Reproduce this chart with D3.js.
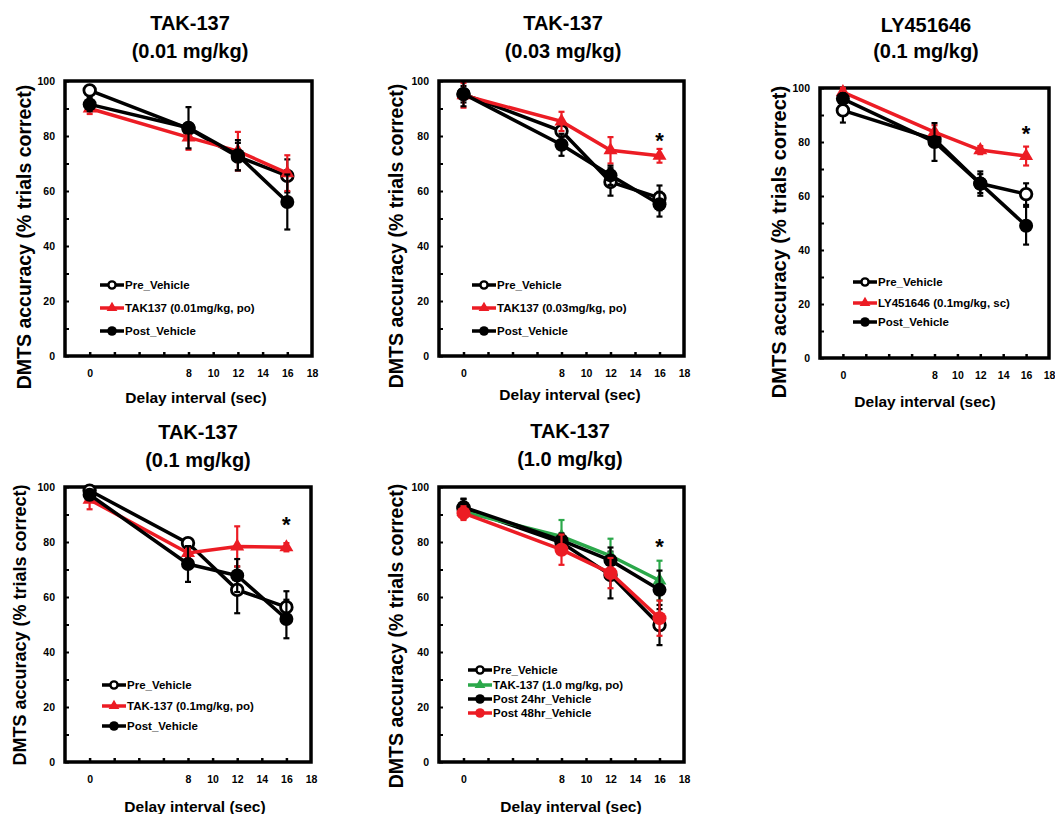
<!DOCTYPE html>
<meta charset="utf-8">
<script src="https://d3js.org/d3.v7.min.js"></script>
<style>
  body { margin: 0; background: #fff; }
  text { font-family: "Liberation Sans", Arial, sans-serif; font-weight: bold; fill: #000; }
  .tick text { font-family: "Liberation Sans Narrow", "Liberation Sans", Arial, sans-serif; font-size: 10.5px; }
</style>
<body>
<svg id="vis" width="1055" height="814"></svg>
<script>
// delay intervals (sec) and axis ticks
var delays = [0, 8, 12, 16];
var xTickLabels = [0, 8, 10, 12, 14, 16, 18];
var xMinorTicks = [0, 2, 4, 6, 8, 10, 12, 14, 16];
var yTickLabels = [0, 20, 40, 60, 80, 100];
var yMinorTicks = [0, 10, 20, 30, 40, 50, 60, 70, 80, 90, 100];

// panel 1: TAK-137 0.01 mg/kg
var p1Pre = [96.6, 82.7, 72.5, 65.5],  p1PreErr = [1.5, 2, 5, 6];
var p1Tak = [90, 79.5, 74.5, 66.5],    p1TakErr = [2, 4.5, 7, 6.5];
var p1Post = [91.5, 83, 73, 56],       p1PostErr = [2.5, 7.5, 5.5, 10];

// panel 2: TAK-137 0.03 mg/kg
var p2Pre = [95.2, 81.8, 63.3, 57.5],  p2PreErr = [3, 2, 5, 4.5];
var p2Tak = [94.8, 85.3, 74.8, 72.8],  p2TakErr = [4.5, 3.5, 4.8, 2.5];
var p2Post = [95.3, 76.8, 65.7, 55.2], p2PostErr = [4.5, 4, 3.5, 4.5];

// panel 3: LY451646 0.1 mg/kg
var p3Pre = [91.7, 81, 64.6, 60.7],    p3PreErr = [4.5, 2, 4.5, 4];
var p3Ly = [98.5, 83.7, 77, 74.8],     p3LyErr = [1.5, 2.5, 1.5, 3.5];
var p3Post = [96, 80, 64.6, 49],       p3PostErr = [2, 7, 3.5, 7];

// panel 4: TAK-137 0.1 mg/kg
var p4Pre = [98.7, 79.6, 62.6, 56.3],  p4PreErr = [1.5, 1.5, 8.5, 5.8];
var p4Tak = [95.4, 76, 78.4, 78.1],    p4TakErr = [3.5, 1.5, 7.3, 1.5];
var p4Post = [97.2, 72, 67.8, 52],     p4PostErr = [1.5, 6.5, 6, 7];

// panel 5: TAK-137 1.0 mg/kg
var p5Pre = [92.2, 79.8, 68, 49.8],    p5PreErr = [3.5, 2, 8.5, 7.3];
var p5Tak = [91, 82, 75, 66],          p5TakErr = [2.5, 6, 6.2, 7.2];
var p5Post24 = [92.7, 80.6, 73.3, 62.6], p5Post24Err = [3, 2.5, 4.7, 7];
var p5Post48 = [90.5, 77.2, 68.7, 52.3], p5Post48Err = [2.5, 5.5, 5.5, 6.4];

var RED = "#ec1c24", GREEN = "#2ba84a", BLACK = "#000";

var panels = [
  { title: ["TAK-137", "(0.01 mg/kg)"], box: [65, 81, 312, 356], tx: 190, ty: [30, 58],
    ylab: [31, 237, 19.5], xlab: [196, 403], star: null,
    leg: { x: 35, rows: [-71, -48, -25] },
    series: [
      { name: "Pre_Vehicle", v: p1Pre, e: p1PreErr, color: BLACK, mark: "open" },
      { name: "TAK137 (0.01mg/kg, po)", v: p1Tak, e: p1TakErr, color: RED, mark: "tri" },
      { name: "Post_Vehicle", v: p1Post, e: p1PostErr, color: BLACK, mark: "dot" } ] },
  { title: ["TAK-137", "(0.03 mg/kg)"], box: [439, 81, 684, 356], tx: 563, ty: [30, 58],
    ylab: [403, 236, 19.5], xlab: [570, 400], star: 80,
    leg: { x: 33, rows: [-71, -48, -25] },
    series: [
      { name: "Pre_Vehicle", v: p2Pre, e: p2PreErr, color: BLACK, mark: "open" },
      { name: "TAK137 (0.03mg/kg, po)", v: p2Tak, e: p2TakErr, color: RED, mark: "tri" },
      { name: "Post_Vehicle", v: p2Post, e: p2PostErr, color: BLACK, mark: "dot" } ] },
  { title: ["LY451646", "(0.1 mg/kg)"], box: [820, 88, 1049, 358], tx: 926, ty: [32, 58],
    ylab: [786, 242, 20], xlab: [925, 407], star: 85,
    leg: { x: 33, rows: [-76, -55, -36] },
    series: [
      { name: "Pre_Vehicle", v: p3Pre, e: p3PreErr, color: BLACK, mark: "open" },
      { name: "LY451646 (0.1mg/kg, sc)", v: p3Ly, e: p3LyErr, color: RED, mark: "tri" },
      { name: "Post_Vehicle", v: p3Post, e: p3PostErr, color: BLACK, mark: "dot" } ] },
  { title: ["TAK-137", "(0.1 mg/kg)"], box: [65, 487, 311, 762], tx: 198, ty: [439, 467],
    ylab: [26, 625, 18], xlab: [195, 812], star: 88,
    leg: { x: 37, rows: [-77, -56, -36] },
    series: [
      { name: "Pre_Vehicle", v: p4Pre, e: p4PreErr, color: BLACK, mark: "open" },
      { name: "TAK-137 (0.1mg/kg, po)", v: p4Tak, e: p4TakErr, color: RED, mark: "tri" },
      { name: "Post_Vehicle", v: p4Post, e: p4PostErr, color: BLACK, mark: "dot" } ] },
  { title: ["TAK-137", "(1.0 mg/kg)"], box: [439, 487, 684, 762], tx: 570, ty: [438, 466],
    ylab: [403, 636, 19.5], xlab: [571, 812], star: 80,
    leg: { x: 29, rows: [-92, -77, -63, -49] },
    series: [
      { name: "Pre_Vehicle", v: p5Pre, e: p5PreErr, color: BLACK, mark: "open" },
      { name: "TAK-137 (1.0 mg/kg, po)", v: p5Tak, e: p5TakErr, color: GREEN, mark: "tri" },
      { name: "Post 24hr_Vehicle", v: p5Post24, e: p5Post24Err, color: BLACK, mark: "dot" },
      { name: "Post 48hr_Vehicle", v: p5Post48, e: p5Post48Err, color: RED, mark: "dot" } ] }
];

var svg = d3.select("#vis");

function drawMark(g, s, cx, cy, small) {
  if (s.mark === "tri") {
    g.append("path")
      .attr("d", d3.symbol(d3.symbolTriangle, small ? 50 : 85)())
      .attr("transform", "translate(" + cx + "," + cy + ")")
      .attr("fill", s.color);
  } else if (s.mark === "open") {
    g.append("circle").attr("cx", cx).attr("cy", cy).attr("r", small ? 3.6 : 5.8)
      .attr("fill", "#fff").attr("stroke", s.color).attr("stroke-width", small ? 2.4 : 2.8);
  } else {
    g.append("circle").attr("cx", cx).attr("cy", cy).attr("r", small ? 4.8 : 7)
      .attr("fill", s.color);
  }
}

panels.forEach(function(p) {
  var L = p.box[0], T = p.box[1], R = p.box[2], B = p.box[3];
  var x = d3.scaleLinear().domain([-2, 18]).range([L, R]);
  var y = d3.scaleLinear().domain([0, 100]).range([B, T]);
  var g = svg.append("g");

  // titles
  p.title.forEach(function(t, i) {
    g.append("text").attr("x", p.tx).attr("y", p.ty[i])
      .attr("text-anchor", "middle").attr("font-size", "20px").text(t);
  });

  // axis labels
  g.append("text")
    .attr("transform", "translate(" + p.ylab[0] + "," + p.ylab[1] + ") rotate(-90)")
    .attr("text-anchor", "middle").attr("font-size", p.ylab[2] + "px")
    .text("DMTS accuracy (% trials correct)");
  g.append("text").attr("x", p.xlab[0]).attr("y", p.xlab[1])
    .attr("text-anchor", "middle").attr("font-size", "15.5px")
    .text("Delay interval (sec)");

  // minor ticks (inside)
  g.append("g").attr("transform", "translate(0," + B + ")")
    .call(d3.axisBottom(x).tickValues(xMinorTicks).tickSize(-4).tickFormat(""))
    .call(function(a) { a.select(".domain").remove(); a.selectAll("line").attr("stroke-width", 2.5); });
  g.append("g").attr("transform", "translate(" + L + ",0)")
    .call(d3.axisLeft(y).tickValues(yMinorTicks).tickSize(-4).tickFormat(""))
    .call(function(a) { a.select(".domain").remove(); a.selectAll("line").attr("stroke-width", 2); });

  // tick labels
  g.append("g").attr("transform", "translate(0," + B + ")")
    .call(d3.axisBottom(x).tickValues(xTickLabels).tickSize(0).tickPadding(14))
    .call(function(a) { a.select(".domain").remove(); });
  g.append("g").attr("transform", "translate(" + L + ",0)")
    .call(d3.axisLeft(y).tickValues(yTickLabels).tickSize(0).tickPadding(10))
    .call(function(a) { a.select(".domain").remove(); });

  // frame
  g.append("rect").attr("x", L).attr("y", T).attr("width", R - L).attr("height", B - T)
    .attr("fill", "none").attr("stroke", "#000").attr("stroke-width", 3.5);

  var line = d3.line().x(function(d, i) { return x(delays[i]); }).y(function(d) { return y(d); });

  p.series.forEach(function(s) {
    var sg = g.append("g");
    // error bars
    s.v.forEach(function(v, i) {
      var cx = x(delays[i]), y1 = y(v + s.e[i]), y2 = y(v - s.e[i]);
      sg.append("line").attr("x1", cx).attr("x2", cx).attr("y1", y1).attr("y2", y2)
        .attr("stroke", s.color).attr("stroke-width", 2.2);
      [y1, y2].forEach(function(yy) {
        sg.append("line").attr("x1", cx - 3).attr("x2", cx + 3).attr("y1", yy).attr("y2", yy)
          .attr("stroke", s.color).attr("stroke-width", 2.2);
      });
    });
    sg.append("path").datum(s.v).attr("d", line)
      .attr("fill", "none").attr("stroke", s.color).attr("stroke-width", 3.5);
    s.v.forEach(function(v, i) { drawMark(sg, s, x(delays[i]), y(v), false); });
  });

  if (p.star !== null) {
    g.append("text").attr("x", x(16)).attr("y", y(p.star) + 12)
      .attr("text-anchor", "middle").attr("font-size", "22px").text("*");
  }

  // legend
  p.series.forEach(function(s, i) {
    var ly = B + p.leg.rows[i], lx = L + p.leg.x;
    g.append("line").attr("x1", lx).attr("x2", lx + 24).attr("y1", ly).attr("y2", ly)
      .attr("stroke", s.color).attr("stroke-width", 3.5);
    drawMark(g, s, lx + 12, ly, true);
    g.append("text").attr("x", lx + 25).attr("y", ly + 4)
      .attr("font-size", "11.5px").text(s.name);
  });
});
</script>
</body>
